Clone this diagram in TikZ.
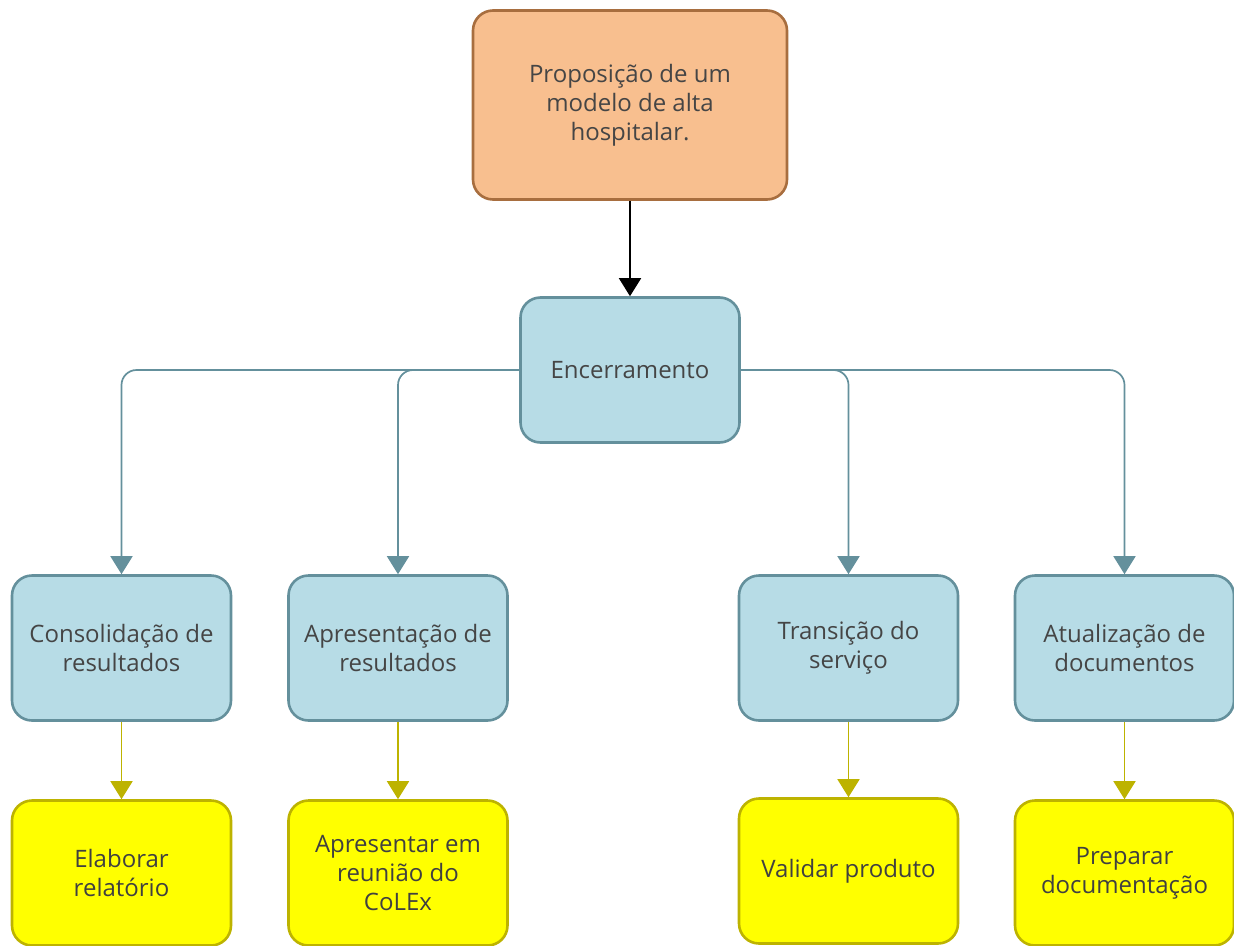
\documentclass[tikz,border=0pt]{standalone}
\usepackage{fontspec}
\setmainfont{Open Sans}
\usetikzlibrary{arrows.meta}
\definecolor{orfill}{HTML}{F8BF8F}
\definecolor{ordraw}{HTML}{A86E3F}
\definecolor{bfill}{HTML}{B7DCE6}
\definecolor{bdraw}{HTML}{64909C}
\definecolor{yfill}{HTML}{FFFF00}
\definecolor{ydraw}{HTML}{BDB300}
\definecolor{txt}{HTML}{454545}
\tikzset{
  box/.style={rounded corners=20pt, line width=2.6pt, align=center, inner sep=0pt,
    text=txt, font=\fontsize{24}{29}\selectfont},
  orbox/.style={box, fill=orfill, draw=ordraw, minimum width=314pt, minimum height=189pt},
  bbox/.style={box, fill=bfill, draw=bdraw, minimum width=219pt, minimum height=145pt},
  ybox/.style={box, fill=yfill, draw=ydraw, minimum width=219pt, minimum height=145pt, text=black!75},
  blk/.style={line width=1.7pt, draw=black, -{Triangle[width=22pt,length=18pt]}},
  bln/.style={line width=1.7pt, draw=bdraw, rounded corners=15pt, -{Triangle[width=22pt,length=18pt]}},
  yln/.style={line width=1.7pt, draw=ydraw, -{Triangle[width=22pt,length=18pt]}}
}
\begin{document}
\begin{tikzpicture}[x=1pt,y=-1pt]
\useasboundingbox (0,0) rectangle (1234,945);
\clip (0,0) rectangle (1234,945);
\node[orbox] (top) at (630,105) {Proposição de um\\modelo de alta\\hospitalar.};
\node[bbox] (enc) at (630,370) {Encerramento};
\node[bbox] (c1) at (121.5,648) {Consolidação de\\resultados};
\node[bbox] (c2) at (398,648) {Apresentação de\\resultados};
\node[bbox] (c3) at (848.5,648) {Transição do\\serviço};
\node[bbox] (c4) at (1124.5,648) {Atualização de\\documentos};
\node[ybox] (y1) at (121.5,873) {Elaborar\\relatório};
\node[ybox] (y2) at (398,873) {Apresentar em\\reunião do\\CoLEx};
\node[ybox] (y3) at (848.5,871) {Validar produto};
\node[ybox] (y4) at (1124.5,873) {Preparar\\documentação};
\draw[blk] (top.south) -- (enc.north);
\draw[bln] (enc.west) -| (c1.north);
\draw[bln] (enc.west) -| (c2.north);
\draw[bln] (enc.east) -| (c3.north);
\draw[bln] (enc.east) -| (c4.north);
\draw[yln] (c1.south) -- (y1.north);
\draw[yln] (c2.south) -- (y2.north);
\draw[yln] (c3.south) -- (y3.north);
\draw[yln] (c4.south) -- (y4.north);
\end{tikzpicture}
\end{document}
